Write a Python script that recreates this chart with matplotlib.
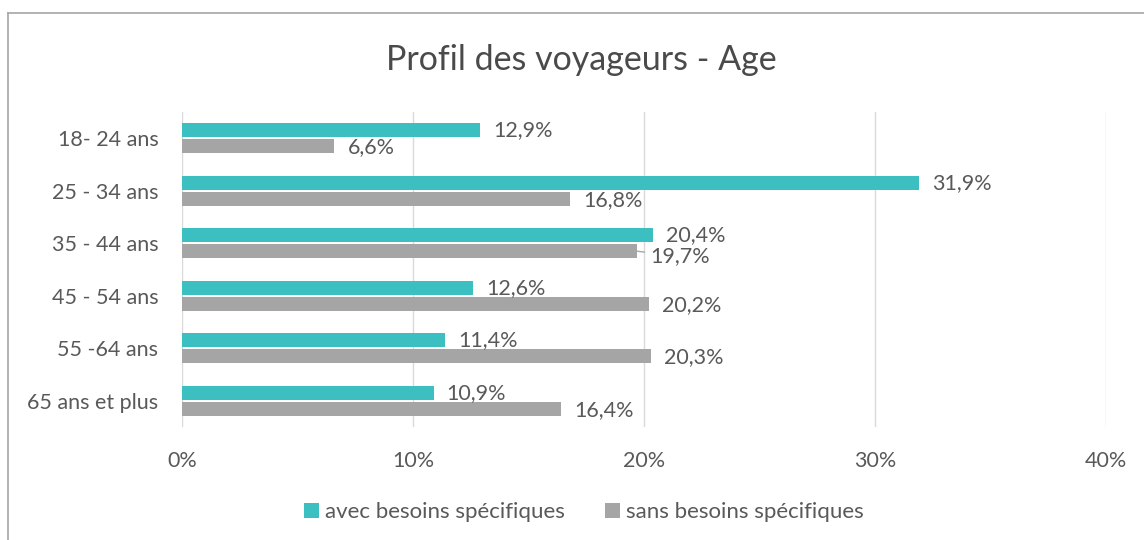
import matplotlib
matplotlib.use("Agg")
import matplotlib.pyplot as plt
from matplotlib.lines import Line2D
from matplotlib.patches import Patch

plt.rcParams['font.family'] = ['Lato', 'DejaVu Sans']

categories = ["18- 24 ans", "25 - 34 ans", "35 - 44 ans", "45 - 54 ans", "55 -64 ans", "65 ans et plus"]
avec = [12.9, 31.9, 20.4, 12.6, 11.4, 10.9]
sans = [6.6, 16.8, 19.7, 20.2, 20.3, 16.4]
series_names = ["avec besoins spécifiques", "sans besoins spécifiques"]
xticks = [0, 10, 20, 30, 40]
title = "Profil des voyageurs - Age"

TEAL = "#3BBFC1"
GRAY = "#A5A5A5"
TXT = "#595959"
FS = 15.5

W, H = 1144, 540
fig = plt.figure(figsize=(W / 100, H / 100), dpi=100)
ax = fig.add_axes([182 / W, 1 - 427 / H, 924 / W, 315 / H])

y = list(range(len(categories)))
bh = 0.27
off = 0.152
ax.barh([v - off for v in y], avec, height=bh, color=TEAL, zorder=3)
ax.barh([v + off for v in y], sans, height=bh, color=GRAY, zorder=3)

ax.set_xlim(0, 40)
ax.set_ylim(len(categories) - 0.5, -0.5)
ax.set_yticks(y)
ax.set_yticklabels(categories, fontsize=FS, color=TXT)
ax.set_xticks(xticks)
ax.set_xticklabels([f"{t}%" for t in xticks], fontsize=FS, color=TXT)
ax.tick_params(axis='both', length=0)
ax.tick_params(axis='y', pad=17)
ax.tick_params(axis='x', pad=17)
ax.grid(axis='x', color="#D9D9D9", linewidth=1, zorder=0)
for s in ax.spines.values():
    s.set_visible(False)

def fmt(v):
    return f"{v:.1f}".replace(".", ",") + "%"

for i, v in enumerate(avec):
    ax.annotate(fmt(v), (v, i - off), xytext=(13, 0), textcoords='offset pixels',
                ha='left', va='center', fontsize=FS, color=TXT, zorder=4)
for i, v in enumerate(sans):
    if i == 2:
        ax.annotate(fmt(v), (v, i + off), xytext=(13, -5), textcoords='offset pixels',
                    ha='left', va='center', fontsize=FS, color=TXT, zorder=4,
                    arrowprops=dict(arrowstyle='-', color="#A6A6A6", lw=1,
                                    shrinkA=2, shrinkB=0))
    else:
        ax.annotate(fmt(v), (v, i + off), xytext=(13, -1), textcoords='offset pixels',
                    ha='left', va='center', fontsize=FS, color=TXT, zorder=4)

fig.text(581 / W, 1 - 60 / H, title, ha='center', va='center', fontsize=24.5, color="#4A4A4A")

handles = [Patch(facecolor=TEAL, edgecolor='none'), Patch(facecolor=GRAY, edgecolor='none')]
fig.legend(handles, series_names, loc='center', bbox_to_anchor=(584 / W, 1 - 512 / H), ncol=2,
           frameon=False, fontsize=16, labelcolor=TXT, handlelength=0.65, handleheight=0.65,
           handletextpad=0.3, columnspacing=1.8)

# chart frame
fig.add_artist(Line2D([8 / W, 8 / W], [0, 1 - 13 / H], color="#A6A6A6", lw=1.2,
                      transform=fig.transFigure))
fig.add_artist(Line2D([8 / W, 1], [1 - 13 / H, 1 - 13 / H], color="#A6A6A6", lw=1.2,
                      transform=fig.transFigure))

fig.savefig("out.png", dpi=100)
